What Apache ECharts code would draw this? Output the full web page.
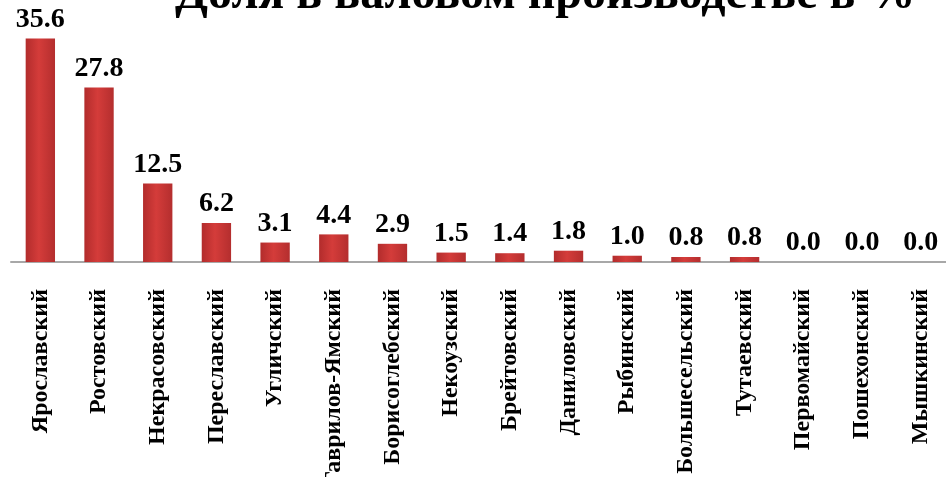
<!DOCTYPE html>
<html>
<head>
<meta charset="utf-8">
<script src="https://cdn.jsdelivr.net/npm/echarts@6/dist/echarts.min.js"></script>
<style>
  html, body { margin: 0; padding: 0; background: #fff; }
  #chart { width: 946px; height: 477px; }
</style>
</head>
<body>
<div id="chart"></div>
<script>
// районы
var districts = ['Ярославский', 'Ростовский', 'Некрасовский', 'Переславский', 'Угличский',
    'Гаврилов-Ямский', 'Борисоглебский', 'Некоузский', 'Брейтовский', 'Даниловский',
    'Рыбинский', 'Большесельский', 'Тутаевский', 'Первомайский', 'Пошехонский', 'Мышкинский'];
// доля в валовом производстве, %
var shares = [35.6, 27.8, 12.5, 6.2, 3.1, 4.4, 2.9, 1.5, 1.4, 1.8, 1.0, 0.8, 0.8, 0.0, 0.0, 0.0];

var chart = echarts.init(document.getElementById('chart'));
var serif = '"Liberation Serif", "DejaVu Serif", serif';

var option = {
    animation: false,
    title: {
        text: 'Доля в валовом производстве в %',
        left: 175,
        top: -28,
        padding: 0,
        textStyle: { fontFamily: serif, fontWeight: 'bold', fontSize: 48, color: '#000' }
    },
    grid: { left: 11, right: -4, top: 11, bottom: 215, outerBoundsMode: 'none' },
    xAxis: {
        type: 'category',
        data: districts,
        axisTick: { show: false },
        axisLine: { lineStyle: { color: '#a8a8a8', width: 2 } },
        axisLabel: {
            rotate: 90,
            interval: 0,
            margin: 27,
            color: '#000',
            fontFamily: serif,
            fontWeight: 'bold',
            fontSize: 24
        }
    },
    yAxis: {
        type: 'value',
        min: 0,
        max: 40,
        show: false
    },
    series: [{
        type: 'bar',
        data: shares,
        barWidth: '50%',
        itemStyle: {
            color: new echarts.graphic.LinearGradient(0, 0, 1, 0, [
                { offset: 0, color: '#b22c2c' },
                { offset: 0.45, color: '#d43c3a' },
                { offset: 1, color: '#b42e2e' }
            ])
        },
        label: {
            show: true,
            position: 'top',
            distance: 5,
            color: '#000',
            fontFamily: serif,
            fontWeight: 'bold',
            fontSize: 28,
            formatter: function (p) { return p.value.toFixed(1); }
        }
    }]
};

chart.setOption(option);
</script>
</body>
</html>
